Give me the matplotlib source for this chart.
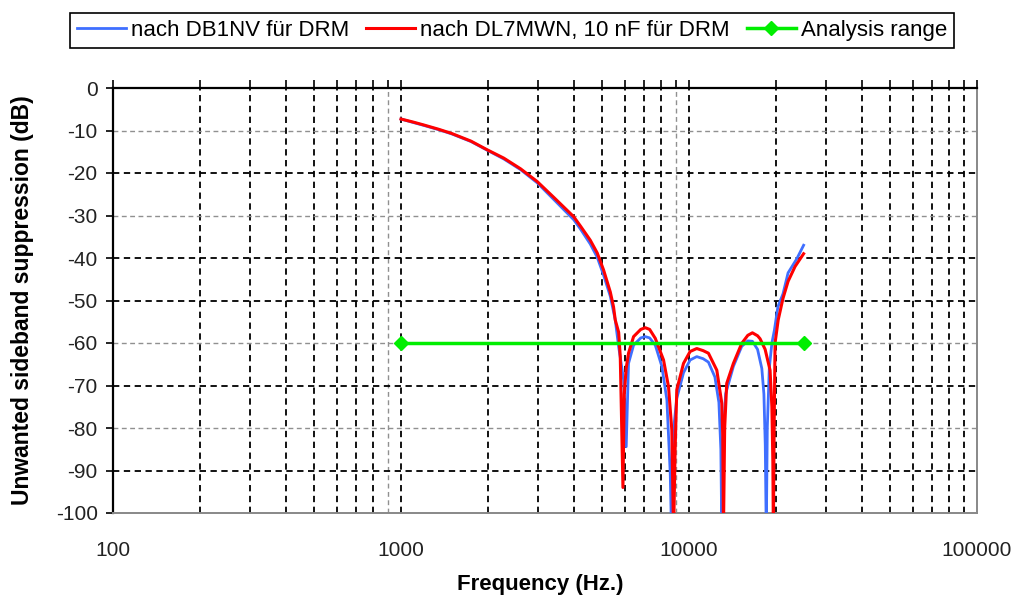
import matplotlib
matplotlib.use('Agg')
import matplotlib.pyplot as plt
from matplotlib.ticker import FixedLocator, FuncFormatter, NullFormatter

plt.rcParams['font.family'] = ['Liberation Sans', 'DejaVu Sans']
plt.rcParams['axes.unicode_minus'] = False

# values (Hz, dB)
freq_red = [1000, 1100, 1200, 1350, 1500, 1750, 2000, 2275, 2600, 2970, 3400, 3980,
            4200, 4540, 4800, 5050, 5330, 5470, 5546, 5700, 5772, 5897, 5960, 6050,
            6166, 6420, 6800, 7050, 7300, 7636, 8158, 8490, 8718, 8838, 8950, 9070,
            9570, 10090, 10640, 11200, 11680, 12490, 13000, 13100, 13170, 13300, 13520,
            14260, 15240, 16000, 16600, 17300, 17650, 18380, 19120, 19400, 19550, 19630,
            19750, 19900, 20400, 21200, 22080, 23350, 25000]
db_red = [-7.3, -8.0, -8.7, -9.7, -10.7, -12.5, -14.6, -16.5, -19.0, -22.0, -25.8, -30.3,
          -32.5, -35.8, -38.8, -42.8, -48.0, -51.5, -54.6, -57.5, -63.2, -94.0, -72.0, -66.0,
          -62.4, -58.5, -56.8, -56.4, -56.8, -58.9, -64.0, -70.3, -80.5, -105, -85.0, -71.0,
          -64.8, -62.0, -61.3, -61.8, -62.4, -66.4, -74.2, -82.0, -105, -80.0, -69.5,
          -64.8, -60.1, -58.2, -57.6, -58.3, -59.0, -61.5, -66.4, -75.0, -88.0, -105,
          -80.0, -60.0, -54.6, -49.5, -45.5, -42.0, -39.0]

freq_blue = [1000, 1100, 1200, 1350, 1500, 1750, 2000, 2275, 2600, 2970, 3400, 3980,
             4200, 4540, 4800, 5050, 5330, 5546, 5696, 5930, 6053, 6166, 6420, 6800,
             7047, 7300, 7636, 8050, 8380, 8606, 8700, 8850, 9070, 9570, 10090, 10640,
             11200, 11680, 12300, 12700, 12900, 13000, 13150, 13400, 14260, 15240, 16000,
             16600, 17300, 17900, 18200, 18400, 18550, 18700, 19000, 19400, 19790, 20350,
             21210, 22080, 23670, 25000]
db_blue = [-7.3, -8.1, -8.8, -9.8, -10.8, -12.6, -14.7, -16.7, -19.2, -22.3, -26.3, -31.0,
           -33.2, -36.7, -39.8, -44.0, -49.0, -54.6, -60.8, -68.7, -84.4, -64.8, -60.5, -58.8,
           -58.5, -58.8, -60.5, -65.5, -73.4, -90.6, -105, -80.0, -73.0, -67.0, -64.0, -63.2,
           -63.7, -64.5, -68.0, -74.0, -85.0, -105, -82.0, -72.0, -65.5, -60.8, -59.5,
           -59.6, -61.5, -66.0, -72.0, -84.0, -105, -80.0, -66.0, -60.0, -57.0, -51.5,
           -48.4, -43.5, -40.2, -37.0]

freq_range = [1000, 25000]
db_range = [-60, -60]

labels = ['nach DB1NV für DRM', 'nach DL7MWN, 10 nF für DRM', 'Analysis range']
x_ticks = [100, 1000, 10000, 100000]
y_ticks = list(range(0, -101, -10))
gray_y = [-10, -30, -60, -80]
gray_x = [900, 9000]

fig = plt.figure(figsize=(10.14, 5.99), dpi=100)
ax = fig.add_axes([113 / 1014, 1 - 513 / 599, 864 / 1014, 425 / 599])

# dashed grid like the spreadsheet original
grid_x = [m * 10 ** e for e in range(2, 5) for m in range(1, 10)][1:]
for gx in grid_x:
    c = '#909090' if gx in gray_x else 'black'
    lw = 1.0 if gx in gray_x else 1.3
    ax.axvline(gx, color=c, lw=lw, dashes=(3.5, 2.5), zorder=1)
for gy in y_ticks[1:-1]:
    c = '#909090' if gy in gray_y else 'black'
    lw = 1.0 if gy in gray_y else 1.3
    ax.axhline(gy, color=c, lw=lw, dashes=(3.5, 2.5), zorder=1)

ax.plot(freq_blue, db_blue, color='#3f6fff', lw=2.0, label=labels[0], zorder=3)
ax.plot(freq_red, db_red, color='#ff0000', lw=2.2, label=labels[1], zorder=4)
ax.plot(freq_range, db_range, color='#00ee00', lw=2.5, marker='D', markersize=7,
        label=labels[2], zorder=5)

ax.set_xscale('log')
ax.set_xlim(100, 100000)
ax.set_ylim(-100, 0)

ax.xaxis.set_major_locator(FixedLocator(x_ticks))
ax.xaxis.set_major_formatter(FuncFormatter(lambda v, p: '%d' % v))
ax.xaxis.set_minor_formatter(NullFormatter())
ax.yaxis.set_major_locator(FixedLocator(y_ticks))

ax.tick_params(axis='x', which='both', top=True, bottom=False, direction='out',
               length=6, width=1.2, pad=14, labelsize=15, labelcolor='#222222')
ax.tick_params(axis='y', which='major', direction='out', length=5, width=1.2,
               pad=6, labelsize=15, labelcolor='#222222')

ax.spines['top'].set_color('black')
ax.spines['top'].set_linewidth(1.6)
ax.spines['left'].set_color('black')
ax.spines['left'].set_linewidth(1.6)
ax.spines['bottom'].set_color('#888888')
ax.spines['bottom'].set_linewidth(1.4)
ax.spines['right'].set_color('#888888')
ax.spines['right'].set_linewidth(1.4)

ax.set_xlabel('Frequency (Hz.)', fontsize=16, fontweight='bold')
ax.set_ylabel('Unwanted sideband suppression (dB)', fontsize=16.5, fontweight='bold')
ax.xaxis.set_label_coords(0.494, -0.169)
ax.xaxis.label.set_va('center')
ax.yaxis.set_label_coords(-0.105, 0.5)
ax.yaxis.label.set_va('center')

leg = fig.legend(loc='center', bbox_to_anchor=(0.505, 0.949), ncol=3, fontsize=16,
                 frameon=True, fancybox=False, framealpha=1, edgecolor='black',
                 handlelength=2.2, handletextpad=0.25, columnspacing=0.75,
                 borderpad=0.3, borderaxespad=0)
leg.get_frame().set_linewidth(1.2)

plt.savefig('out.png', dpi=100)
